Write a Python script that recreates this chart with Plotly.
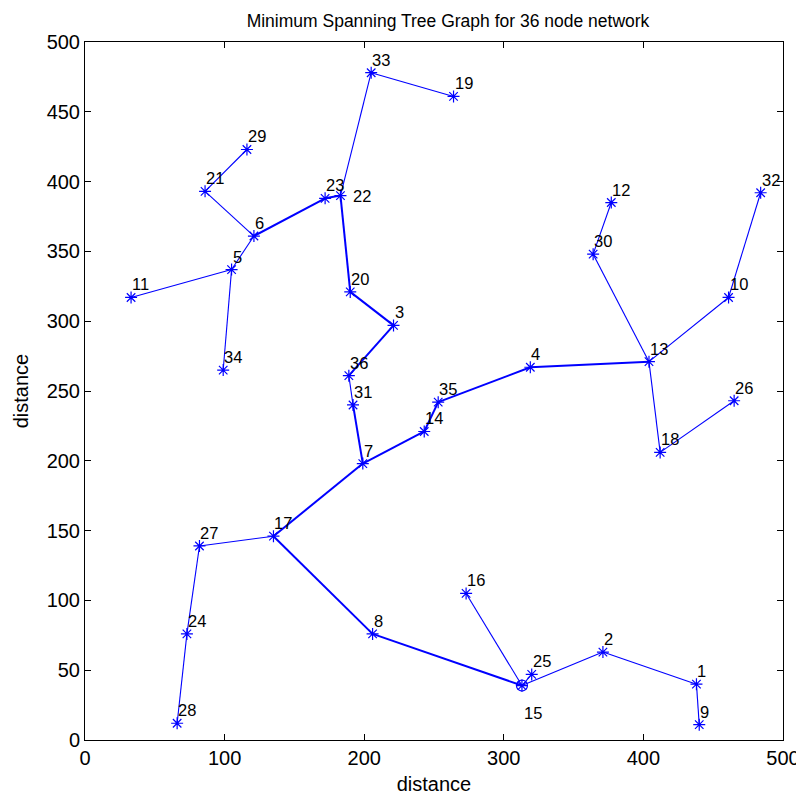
import plotly.graph_objects as go

# node coordinates (node id -> x, y)
node_ids = list(range(1, 37))
node_x = [438, 371, 221, 319, 105, 121, 199, 206, 440, 461,
          33, 377, 404, 243, 313, 273, 135, 412, 264, 190,
          86, 183, 172, 73, 320, 465, 82, 66, 116, 364,
          192, 484, 205, 99, 253, 189]
node_y = [40, 63, 297, 267, 337, 361, 198, 76, 11, 317,
          317, 385, 271, 221, 39, 105, 146, 206, 461, 321,
          393, 390, 388, 76, 47, 243, 139, 12, 423, 348,
          240, 392, 478, 265, 242, 261]

# tree edges; second group is the heavier trunk
thin_edges = [(33, 19), (21, 29), (5, 11), (5, 34), (30, 12), (10, 32),
              (18, 26), (15, 16), (15, 25), (1, 9), (24, 28), (27, 24),
              (36, 31), (13, 30), (13, 10), (13, 18), (2, 1), (15, 2),
              (33, 22), (6, 21), (6, 5), (17, 27)]
thick_edges = [(22, 23), (23, 6), (22, 20), (20, 3), (3, 36), (31, 7),
               (7, 14), (14, 35), (35, 4), (4, 13), (7, 17), (17, 8),
               (8, 15)]

source_node = 15
BLUE = 'rgb(0,0,255)'


def edge_xy(edges):
    xs, ys = [], []
    for a, b in edges:
        xs += [node_x[a - 1], node_x[b - 1], None]
        ys += [node_y[a - 1], node_y[b - 1], None]
    return xs, ys


fig = go.Figure()
for edges, w in [(thin_edges, 1.1), (thick_edges, 2.0)]:
    ex, ey = edge_xy(edges)
    fig.add_trace(go.Scatter(x=ex, y=ey, mode='lines',
                             line=dict(color=BLUE, width=w),
                             hoverinfo='skip', showlegend=False))

fig.add_trace(go.Scatter(x=node_x, y=node_y, mode='markers',
                         marker=dict(symbol='asterisk-open', size=10, color=BLUE,
                                     line=dict(color='rgb(30,30,255)', width=1.2)),
                         text=[str(n) for n in node_ids], showlegend=False))
fig.add_trace(go.Scatter(x=[node_x[source_node - 1]], y=[node_y[source_node - 1]],
                         mode='markers',
                         marker=dict(symbol='circle-open', size=11, color=BLUE,
                                     line=dict(color=BLUE, width=1.2)),
                         showlegend=False))

# node labels
for n, x, y in zip(node_ids, node_x, node_y):
    if n == 22:
        xs, ys, ya = 11, 0, 'middle'
    elif n == 15:
        xs, ys, ya = 0, -16, 'top'
    else:
        xs, ys, ya = -1, 2, 'bottom'
    fig.add_annotation(x=x, y=y, text=str(n), showarrow=False,
                       xanchor='left', yanchor=ya, xshift=xs, yshift=ys,
                       font=dict(size=16.5, color='black'))

axis_style = dict(showline=True, linecolor='black', linewidth=1, mirror='ticks',
                  ticks='inside', ticklen=6, tickcolor='black', showgrid=False,
                  zeroline=False, tickfont=dict(size=20, color='black'),
                  automargin=False)

# page body adds an 8px offset, so the figure is sized 8px smaller
fig.update_layout(
    width=796, height=787,
    margin=dict(l=77, r=21, t=34, b=55),
    paper_bgcolor='white', plot_bgcolor='white',
    font=dict(family='Arial, Liberation Sans, Helvetica, sans-serif', color='black'),
    title=dict(text='Minimum Spanning Tree Graph for 36 node network',
               x=440 / 796, xref='container', xanchor='center',
               y=1 - 13 / 787, yref='container', yanchor='middle',
               font=dict(size=17.5)),
    xaxis=dict(range=[0, 500], tickvals=[0, 100, 200, 300, 400, 500],
               title=dict(text='distance', font=dict(size=20), standoff=10),
               **axis_style),
    yaxis=dict(range=[0, 500], tickvals=list(range(0, 501, 50)),
               title=dict(text='distance', font=dict(size=20), standoff=12),
               **axis_style),
)

fig.write_html("out.html")
